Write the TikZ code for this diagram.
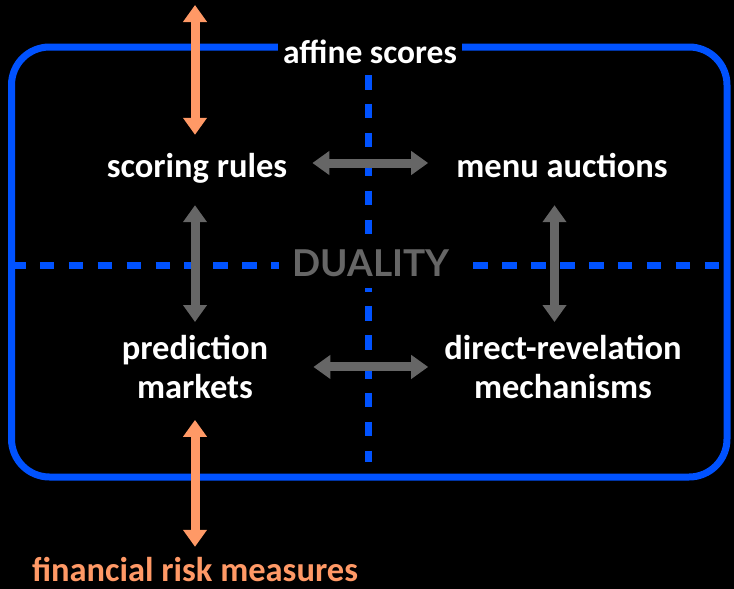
\documentclass[tikz,border=0pt]{standalone}
\usepackage{fontspec}
\setmainfont{Carlito}
\newfontfamily\dualfont{Lato}
\usetikzlibrary{arrows.meta}
\definecolor{frameblue}{HTML}{0052FF}
\definecolor{linkgray}{HTML}{666666}
\definecolor{riskorange}{HTML}{FF9966}
\begin{document}
\begin{tikzpicture}[x=1pt,y=-1pt,
  label/.style={text=white,font=\bfseries\fontsize{34.5}{39}\selectfont,inner sep=0pt},
  rowtop/.style={label,text height=28pt,text depth=0pt,anchor=base},
  twoline/.style={label,align=center},
  dbl/.style={line width=9pt,{Triangle[width=23pt,length=17pt]}-{Triangle[width=23pt,length=17pt]}},
  grayarrow/.style={dbl,draw=linkgray,fill=linkgray},
  orangearrow/.style={dbl,draw=riskorange,fill=riskorange},
  divider/.style={draw=frameblue,line width=7pt,dash pattern=on 14.5pt off 14.4pt}]
  % black canvas
  \fill[black] (0,0) rectangle (734,589);
  \useasboundingbox (0,0) rectangle (734,589);

  % dashed quadrant dividers
  \draw[divider] (368.5,75) -- (368.5,462);
  \draw[divider] (11,265) -- (727,265);

  % outer frame
  \draw[frameblue,line width=7pt,rounded corners=38pt] (11.5,47) rectangle (727,477);

  % labels
  \node[label,fill=black,inner xsep=5pt,inner ysep=4pt,anchor=base,
        font=\bfseries\fontsize{33.5}{39}\selectfont] (affine) at (370,63) {affine scores};
  \node[label,fill=black,inner xsep=13pt,inner ysep=11pt,text=linkgray,
        font=\dualfont\bfseries\fontsize{37}{40}\selectfont] (dual) at (371,263) {DUALITY};
  \node[rowtop] (sr) at (197,177) {scoring rules};
  \node[rowtop] (ma) at (562,177) {menu auctions};
  \node[twoline,anchor=north] (pm) at (195,335) {prediction\\markets};
  \node[twoline,anchor=north] (dr) at (563,335) {direct-revelation\\mechanisms};
  \node[label,text=riskorange,text height=26pt,text depth=0pt,anchor=base] (frm) at (195,581) {financial risk measures};
  \coordinate (outer) at (195,5);

  % connectors
  \draw[grayarrow,shorten <=25pt,shorten >=28pt] (sr.east) -- (sr.east -| ma.west);
  \draw[grayarrow,shorten <=45pt,shorten >=16pt,yshift=2pt] (pm.east) -- (pm.east -| dr.west);
  \draw[grayarrow,shorten <=28pt,shorten >=13pt] (pm.north |- sr.south) -- (pm.north);
  \draw[grayarrow,shorten <=28pt,shorten >=13pt] (554.5,0 |- ma.south) -- (554.5,0 |- dr.north);
  \draw[orangearrow,shorten >=14pt] (outer) -- (outer |- sr.north);
  \draw[orangearrow,shorten <=21pt,shorten >=8pt] (outer |- pm.south) -- (outer |- frm.north);
\end{tikzpicture}
\end{document}
